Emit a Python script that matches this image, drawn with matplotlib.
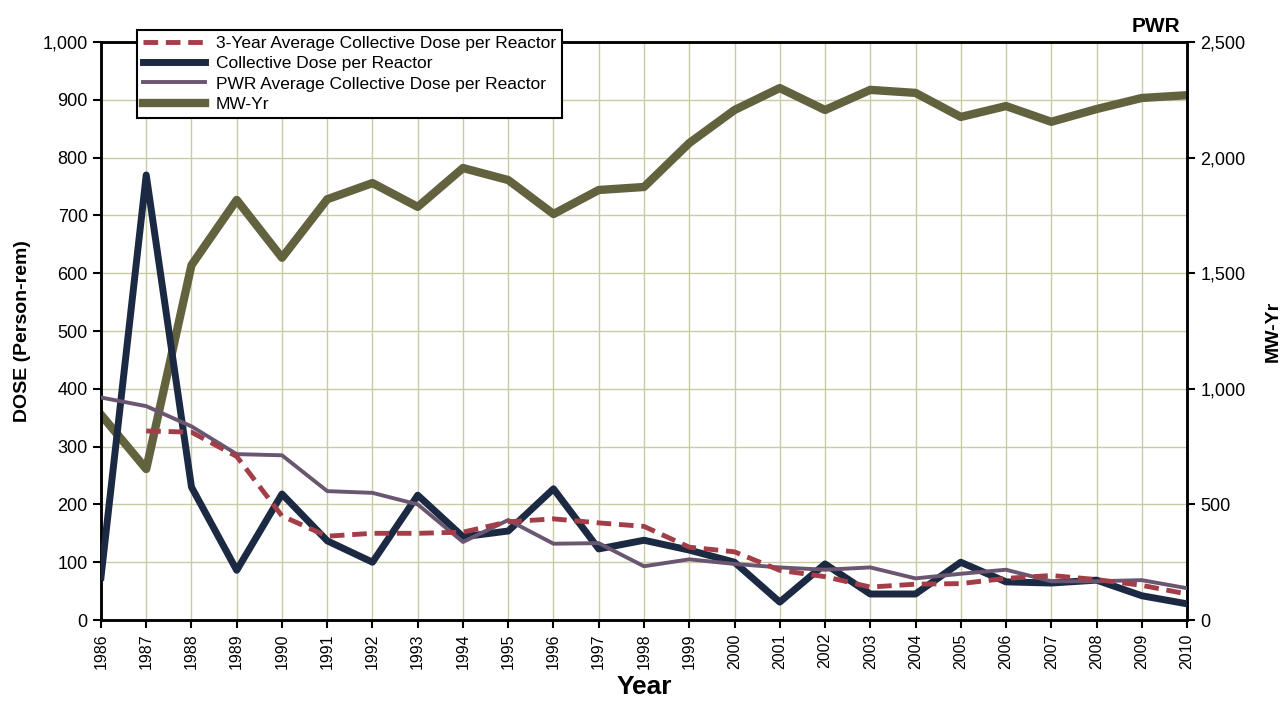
import matplotlib
matplotlib.use("Agg")
import matplotlib.pyplot as plt
from matplotlib.ticker import FuncFormatter, MultipleLocator

plt.rcParams['font.family'] = ['Liberation Sans', 'DejaVu Sans']

years = list(range(1986, 2011))

dose = [74, 770, 230, 86, 218, 137, 100, 216, 144, 154, 227, 123, 138,
        121, 100, 31, 97, 45, 45, 100, 66, 64, 69, 42, 28]

avg3_years = list(range(1987, 2011))
avg3 = [327, 325, 283, 180, 145, 150, 150, 152, 170, 175, 168, 162,
        126, 118, 86, 75, 57, 62, 63, 72, 77, 70, 60, 45]

pwr_avg = [385, 370, 335, 287, 285, 223, 220, 200, 135, 173, 132, 133, 93,
           105, 97, 91, 87, 91, 72, 80, 87, 67, 67, 69, 55]

mwyr = [888, 653, 1535, 1817, 1567, 1820, 1890, 1787, 1955, 1903, 1756,
        1860, 1873, 2063, 2206, 2301, 2206, 2293, 2280, 2176, 2223, 2155,
        2210, 2258, 2270]

bg = '#d8d9b9'
grid_c = '#c9cba3'
c_avg3 = '#a33d48'
c_dose = '#1b2a42'
c_pwr = '#6a5670'
c_mw = '#62623f'

fig = plt.figure(figsize=(12.88, 7.04), dpi=100)
ax = fig.add_axes([0.0784, 0.1193, 0.8432, 0.821])
ax2 = ax.twinx()

# dose axis on top of the MW-Yr axis, background on ax2
ax.set_zorder(ax2.get_zorder() + 1)
ax.patch.set_visible(False)
ax2.patch.set_facecolor(bg)

ax.set_xlim(1986, 2010)
ax.set_ylim(0, 1000)
ax2.set_ylim(0, 2500)
ax2.set_xlim(1986, 2010)

ax.yaxis.set_major_locator(MultipleLocator(100))
ax2.yaxis.set_major_locator(MultipleLocator(500))

# grid drawn on ax2 so it sits below all lines
for y in range(100, 1000, 100):
    ax2.axhline(y * 2.5, color=grid_c, linewidth=1.0, zorder=0)
for x in years[1:-1]:
    ax2.axvline(x, color=grid_c, linewidth=1.0, zorder=0)

l4, = ax2.plot(years, mwyr, color=c_mw, linewidth=6, zorder=2, label='MW-Yr')
l2, = ax.plot(years, dose, color=c_dose, linewidth=5, zorder=3,
              label='Collective Dose per Reactor')
l3, = ax.plot(years, pwr_avg, color=c_pwr, linewidth=2.8, zorder=4,
              label='PWR Average Collective Dose per Reactor')
l1, = ax.plot(avg3_years, avg3, color=c_avg3, linewidth=3.5, zorder=5,
              dashes=(3, 1.6), label='3-Year Average Collective Dose per Reactor')

fmt = FuncFormatter(lambda v, p: f'{int(v):,}')
ax.yaxis.set_major_formatter(fmt)
ax2.yaxis.set_major_formatter(fmt)

ax.set_xticks(years)
ax.set_xticklabels([str(y) for y in years], rotation=90, fontsize=11.5)
ax.tick_params(axis='y', labelsize=13, length=6, width=1.5, direction='out')
ax.tick_params(axis='x', length=6, width=1.5, direction='out')
ax2.tick_params(axis='y', labelsize=13, length=6, width=1.5, direction='out')

for a in (ax, ax2):
    for s in a.spines.values():
        s.set_linewidth(1.8)
        s.set_color('black')

ax.set_xlabel('Year', fontsize=19, fontweight='bold', labelpad=4)
ax.set_ylabel('DOSE (Person-rem)', fontsize=14, fontweight='bold', labelpad=8)
ax2.set_ylabel('MW-Yr', fontsize=14, fontweight='bold', rotation=90, labelpad=14)

fig.text(0.916, 0.963, 'PWR', fontsize=15, fontweight='bold', ha='right', va='center')

leg = ax.legend(handles=[l1, l2, l3, l4], loc='upper left',
                bbox_to_anchor=(0.106, 0.958), bbox_transform=fig.transFigure,
                fontsize=12.5, frameon=True, fancybox=False, framealpha=1,
                edgecolor='black', handlelength=3.6, borderpad=0.35,
                labelspacing=0.3, handletextpad=0.6, borderaxespad=0)
leg.get_frame().set_linewidth(1.5)
leg.set_zorder(10)

fig.savefig('out.png', dpi=100)
